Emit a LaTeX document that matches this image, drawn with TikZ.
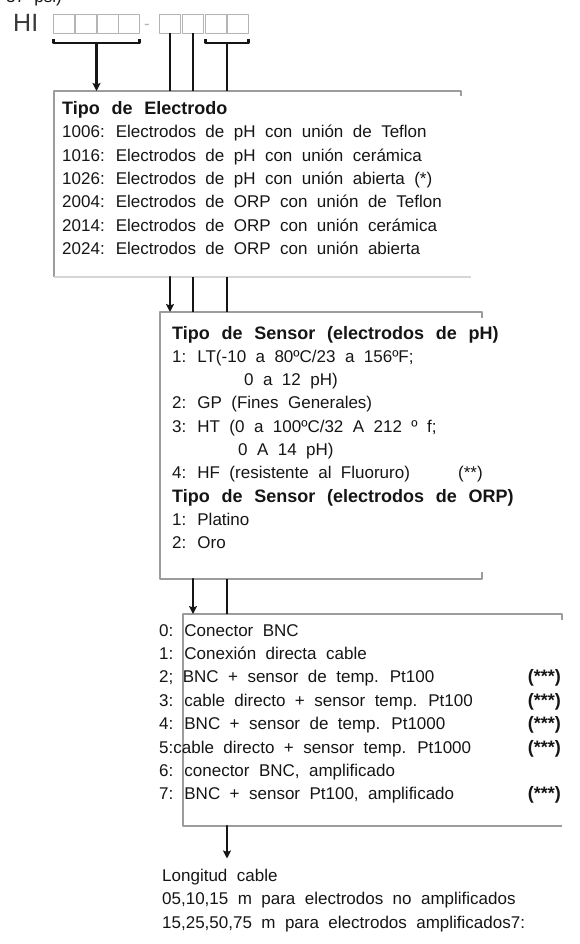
\documentclass[tikz,border=0pt]{standalone}
\usepackage{fontspec}
\setmainfont{Liberation Sans}[WordSpace=2,BoldFeatures={WordSpace=2.35}]
\usepackage{xcolor}
\usepackage{tikz}
\usetikzlibrary{arrows.meta,positioning,calc}
\definecolor{ink}{HTML}{151515}
\definecolor{rimgray}{HTML}{9C9C9C}
\definecolor{faintgray}{HTML}{D6D6D6}
\definecolor{slotgray}{HTML}{B4B4B4}
\tikzset{
    every picture/.style={line cap=round,line join=round},
    slot/.style={draw=slotgray,line width=1.1pt,minimum width=21pt,
      minimum height=19pt,inner sep=0pt,outer sep=0pt},
    panel/.style={inner sep=0pt,outer sep=0pt,anchor=north west},
    rim/.style={draw=rimgray,line width=1.3pt,line cap=butt},
    txt/.style={anchor=base west,inner sep=0pt,text=ink,
      font=\fontsize{17}{20}\selectfont},
    head/.style={txt,font=\fontsize{18}{20}\selectfont\bfseries},
    feed/.style={-{Stealth[length=8pt,width=8pt,inset=1.5pt]},draw=ink,line width=2.4pt},
    tie/.style={draw=ink,line width=2.4pt,line cap=butt}
}

\begin{document}
\begin{tikzpicture}[x=1pt,y=-1pt]
  \useasboundingbox (0,0) rectangle (580,944);

  % code line
  \node[txt,anchor=base east] (psi) at (62,3) {37 psi)};
  \node[txt,font=\fontsize{25}{25}\selectfont,text=ink!85] (hi) at (13,32) {HI};
  \foreach \x [count=\i] in {64,86,108,129,170,193,216,238}
    \node[slot] (d\i) at (\x,24) {};
  \node[txt,text=slotgray] (dash) at (144,30) {-};
  \coordinate (b1) at ($(d1.south)!0.5!(d4.south)+(0,9.5)$);
  \coordinate (b2) at ($(d7.south)!0.5!(d8.south)+(0,9.5)$);
  \draw[tie] ($(d1.south west)+(0,6)$) -- ++(0,3.5) -| ($(d4.south east)+(0,6)$);
  \draw[tie] ($(d7.south west)+(0,6)$) -- ++(0,3.5) -| ($(d8.south east)+(0,6)$);

  % panels
  \node[panel,minimum width=407pt,minimum height=186pt] (tipo) at (54,91) {};
  \node[panel,minimum width=322pt,minimum height=267pt] (sensor) at (160,312) {};
  \node[panel,minimum width=379pt,minimum height=212pt] (conn) at (183,614) {};
  \draw[rim] ($(tipo.north east)+(0,5)$) -- (tipo.north east) -- (tipo.north west) -- (tipo.south west);
  \draw[rim,draw=faintgray] (tipo.south west) -- ($(tipo.south east)+(10,0)$);
  \draw[rim] ($(sensor.north east)+(0,6)$) -- (sensor.north east) -- (sensor.north west)
    -- (sensor.south west) -- (sensor.south east) -- ++(0,-7);
  \draw[rim] ($(conn.north east)+(0,6)$) -- (conn.north east) -- (conn.north west)
    -- (conn.south west) -- (conn.south east);

  % electrode type
  \node[head] (e0) at (62,115) {Tipo de Electrodo};
  \foreach \t [count=\i] in {1006: Electrodos de pH con unión de Teflon,
      1016: Electrodos de pH con unión cerámica,
      1026: Electrodos de pH con unión abierta (*),
      2004: Electrodos de ORP con unión de Teflon,
      2014: Electrodos de ORP con unión cerámica,
      2024: Electrodos de ORP con unión abierta}
    \node[txt] (e\i) at (62,114.5+23.3*\i) {\t};

  % sensor type
  \node[head] (s0) at (172,339) {Tipo de Sensor (electrodos de pH)};
  \node[txt] (s1) at (172,362.3) {1: LT(-10 a 80ºC/23 a 156ºF;};
  \node[txt] (s2) at (244,385.6) {0 a 12 pH)};
  \node[txt] (s3) at (172,408.9) {2: GP (Fines Generales)};
  \node[txt] (s4) at (172,432.2) {3: HT (0 a 100ºC/32 A 212 º f;};
  \node[txt] (s5) at (238,455.5) {0 A 14 pH)};
  \node[txt] (s6) at (172,478.8) {4: HF (resistente al Fluoruro)};
  \node[txt] (s6b) at (458,478.8) {(**)};
  \node[head] (s7) at (172,502.1) {Tipo de Sensor (electrodos de ORP)};
  \node[txt] (s8) at (172,525.4) {1: Platino};
  \node[txt] (s9) at (172,548.7) {2: Oro};

  % connection
  \foreach \t [count=\i from 0] in {0: Conector BNC,
      1: Conexión directa cable,
      2; BNC + sensor de temp. Pt100,
      3: cable directo + sensor temp. Pt100,
      4: BNC + sensor de temp. Pt1000,
      5:cable directo + sensor temp. Pt1000,
      {6: conector BNC, amplificado},
      {7: BNC + sensor Pt100, amplificado}}
    \node[txt] (c\i) at (159,636+23.4*\i) {\t};
  \foreach \i in {2,3,4,5,7}
    \node[head,anchor=base east] (n\i) at (561,636+23.4*\i) {(***)};

  % cable length
  \node[txt] (lon1) at (162,881) {Longitud cable};
  \node[txt] (lon2) at (162,904.5) {05,10,15 m para electrodos no amplificados};
  \node[txt] (lon3) at (162,928) {15,25,50,75 m para electrodos amplificados7:};

  % connectors
  \draw[feed] (b1) -- (b1 |- tipo.north);
  \draw[tie] (d5.south) -- (d5 |- tipo.north);
  \draw[tie] (d6.south) -- (d6 |- tipo.north);
  \draw[tie] (b2) -- (b2 |- tipo.north);
  \draw[feed] (d5 |- tipo.south) -- (d5 |- sensor.north);
  \draw[tie] (d6 |- tipo.south) -- (d6 |- sensor.north);
  \draw[tie] (b2 |- tipo.south) -- (b2 |- sensor.north);
  \draw[feed] (d6 |- sensor.south) -- (d6 |- conn.north);
  \draw[tie] (b2 |- sensor.south) -- (b2 |- conn.north);
  \draw[feed,shorten >=10pt] (b2 |- conn.south) -- (b2 |- lon1.north);
\end{tikzpicture}
\end{document}
